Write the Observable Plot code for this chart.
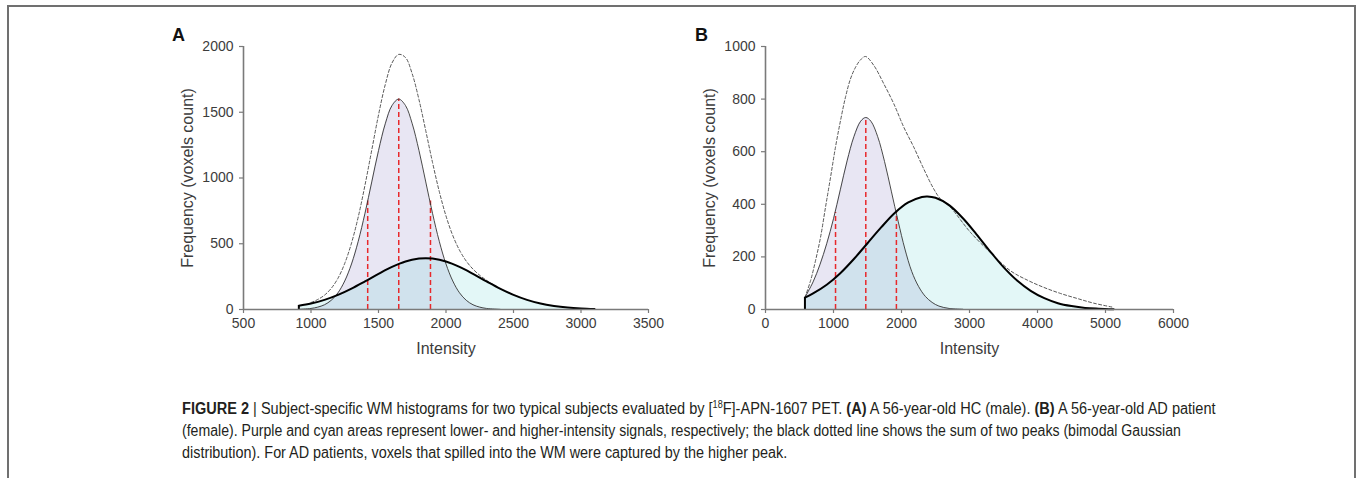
<!DOCTYPE html>
<html>
<head>
<meta charset="utf-8">
<script src="https://cdn.jsdelivr.net/npm/d3@7"></script>
<script src="https://cdn.jsdelivr.net/npm/@observablehq/plot@0.6"></script>
<style>
  html, body { margin: 0; padding: 0; background: #fff; }
  body { width: 1358px; height: 478px; overflow: hidden; position: relative; font-family: "Liberation Sans", Arial, Helvetica, sans-serif; }
  #frame { position: absolute; left: 7px; top: 5px; width: 1349px; height: 520px; border: 2px solid #707070; border-bottom: none; box-sizing: border-box; }
  .panel { position: absolute; }
  .letter { position: absolute; font-weight: bold; font-size: 18px; line-height: 1; color: #111; }
  .cap { position: absolute; left: 182px; font-size: 16px; line-height: 16px; white-space: nowrap; color: #231f20; transform-origin: 0 50%; }
  .cap b { font-weight: bold; }
  .cap .sup { font-size: 10px; line-height: 10px; vertical-align: 6px; }
</style>
</head>
<body>
<div id="frame"></div>
<div class="letter" style="left:172px;top:26px">A</div>
<div class="letter" style="left:695px;top:26px">B</div>
<div id="panelA" class="panel" style="left:160px;top:30px"></div>
<div id="panelB" class="panel" style="left:690px;top:30px"></div>
<div id="captionBox"></div>
<script>
// ---------- Panel A (56-year-old HC) ----------
const aLowX  = [910,1000,1050,1100,1150,1200,1250,1300,1350,1400,1450,1500,1550,1600,1650,1700,1750,1800,1850,1900,1950,2000,2050,2100,2150,2200,2250,2300,2400];
const aLowY  = [1,8,18,36,70,127,217,346,519,732,970,1208,1412,1551,1600,1551,1412,1208,970,732,519,346,217,127,70,36,18,8,1];
const aHighX = [910,1000,1100,1200,1300,1400,1500,1600,1700,1800,1850,1900,2000,2100,2200,2300,2400,2500,2600,2700,2800,2900,3000,3100];
const aHighY = [28,45,73,111,159,214,271,324,365,387,390,387,365,324,271,214,159,111,73,45,27,15,8,4];
const aSumX  = [1000,1050,1100,1150,1200,1250,1300,1350,1400,1450,1500,1550,1600,1650,1700,1750,1800,1850,1900,1950,2000,2050,2100,2150,2200,2250,2300,2350];
const aSumY  = [53,76,109,161,238,351,505,704,946,1212,1479,1710,1875,1940,1916,1791,1595,1360,1119,898,711,563,451,368,307,260,222,189];
const aRedX  = [1420,1650,1885];
const aRedY  = [826,1600,826];
const aXTicks = [500,1000,1500,2000,2500,3000,3500];
const aYTicks = [0,500,1000,1500,2000];

// ---------- Panel B (56-year-old AD patient) ----------
const bLowX  = [580,700,800,900,1000,1100,1200,1300,1400,1475,1550,1650,1750,1850,1950,2050,2150,2250,2350,2450,2550,2700,2900];
const bLowY  = [46,105,170,250,345,455,565,657,716,730,716,657,563,450,336,230,145,88,50,27,13,4,1];
const bHighX = [580,700,900,1100,1300,1500,1700,1900,2100,2300,2380,2500,2700,2900,3100,3300,3500,3700,3900,4100,4300,4500,4700,4900,5120];
const bHighY = [45,61,94,138,192,252,312,367,407,428,430,425,397,348,287,222,161,110,71,43,24,13,6,3,1];
const bSumX  = [580,662,735,809,882,956,1029,1103,1176,1250,1324,1400,1471,1593,1740,1887,2034,2181,2328,2475,2574,2721,3015,3358,3603,3848,4093,4338,4583,4828,5122];
const bSumY  = [46,109,185,274,388,502,617,718,807,877,921,950,962,928,858,782,693,617,534,458,420,388,293,204,147,112,84,61,42,24,8];
const bRedX  = [1030,1475,1925];
const bRedY  = [369,730,369];
const bXTicks = [0,1000,2000,3000,4000,5000,6000];
const bYTicks = [0,200,400,600,800,1000];

// ---------- Caption text ----------
const captionLines = [
  '<b>FIGURE 2</b> | Subject-specific WM histograms for two typical subjects evaluated by [<span class="sup">18</span>F]-APN-1607 PET. <b>(A)</b> A 56-year-old HC (male). <b>(B)</b> A 56-year-old AD patient',
  '(female). Purple and cyan areas represent lower- and higher-intensity signals, respectively; the black dotted line shows the sum of two peaks (bimodal Gaussian',
  'distribution). For AD patients, voxels that spilled into the WM were captured by the higher peak.'
];
const captionWidths = [1034, 999, 605];

const zip = (xs, ys) => xs.map((x, i) => ({x, y: ys[i]}));

function panel(o) {
  const low = zip(o.lowX, o.lowY), high = zip(o.highX, o.highY), sum = zip(o.sumX, o.sumY), red = zip(o.redX, o.redY);
  const fmt = d => String(d);
  const xDomain = [o.xTicks[0], o.xTicks[o.xTicks.length - 1]];
  const yDomain = [o.yTicks[0], o.yTicks[o.yTicks.length - 1]];
  return Plot.plot({
    width: o.width, height: 331,
    marginLeft: o.marginLeft, marginRight: 10, marginTop: 16, marginBottom: 52,
    style: {fontFamily: '"Liberation Sans", Arial, Helvetica, sans-serif', fontSize: "14px", color: "#3c3c3c", background: "transparent", overflow: "visible"},
    x: {domain: xDomain},
    y: {domain: yDomain},
    marks: [
      Plot.areaY(low, {x: "x", y: "y", fill: "#e8e6f3", curve: "catmull-rom"}),
      Plot.areaY(high, {x: "x", y: "y", fill: "rgb(90,208,208)", fillOpacity: 0.17, curve: "catmull-rom"}),
      Plot.ruleX(red, {x: "x", y1: 0, y2: "y", stroke: "#e8282b", strokeWidth: 1.5, strokeDasharray: "5,3"}),
      Plot.line(low, {x: "x", y: "y", stroke: "#333", strokeWidth: 0.9, curve: "catmull-rom"}),
      Plot.line(sum, {x: "x", y: "y", stroke: "#444", strokeWidth: 0.9, strokeDasharray: "3,2.2", curve: "catmull-rom"}),
      Plot.line(high, {x: "x", y: "y", stroke: "#000", strokeWidth: 2, curve: "catmull-rom"}),
      Plot.ruleX([high[0]], {x: "x", y1: 0, y2: "y", stroke: "#000", strokeWidth: 2}),
      Plot.ruleY([yDomain[0]], {stroke: "#7a7a7a", strokeWidth: 1.6}),
      Plot.ruleX([xDomain[0]], {stroke: "#7a7a7a", strokeWidth: 1.6}),
      Plot.axisX({ticks: o.xTicks, tickFormat: fmt, tickSize: 4, tickPadding: 5, label: null, stroke: "#7a7a7a", strokeWidth: 1.2}),
      Plot.axisY({ticks: o.yTicks, tickFormat: fmt, tickSize: 4, tickPadding: 6, label: null, stroke: "#7a7a7a", strokeWidth: 1.2}),
      Plot.text(["Intensity"], {text: d => d, frameAnchor: "bottom", dy: 39, lineAnchor: "middle", textAnchor: "middle", fontSize: 16, fill: "#3c3c3c"}),
      Plot.text(["Frequency (voxels count)"], {text: d => d, frameAnchor: "left", rotate: -90, dx: -56, lineAnchor: "middle", textAnchor: "middle", fontSize: 16, fill: "#3c3c3c"})
    ]
  });
}

document.getElementById("panelA").appendChild(panel({
  lowX: aLowX, lowY: aLowY, highX: aHighX, highY: aHighY, sumX: aSumX, sumY: aSumY, redX: aRedX, redY: aRedY,
  xTicks: aXTicks, yTicks: aYTicks, width: 498, marginLeft: 83
}));
document.getElementById("panelB").appendChild(panel({
  lowX: bLowX, lowY: bLowY, highX: bHighX, highY: bHighY, sumX: bSumX, sumY: bSumY, redX: bRedX, redY: bRedY,
  xTicks: bXTicks, yTicks: bYTicks, width: 493, marginLeft: 75
}));

// ---------- Caption layout (condensed to the reference line widths) ----------
const box = document.getElementById("captionBox");
const tops = [399.5, 422.5, 445];
captionLines.forEach((html, i) => {
  const d = document.createElement("div");
  d.className = "cap";
  d.style.top = tops[i] + "px";
  d.innerHTML = html;
  box.appendChild(d);
  const w = d.offsetWidth;
  d.style.transform = `scaleX(${captionWidths[i] / w})`;
});
</script>
</body>
</html>
